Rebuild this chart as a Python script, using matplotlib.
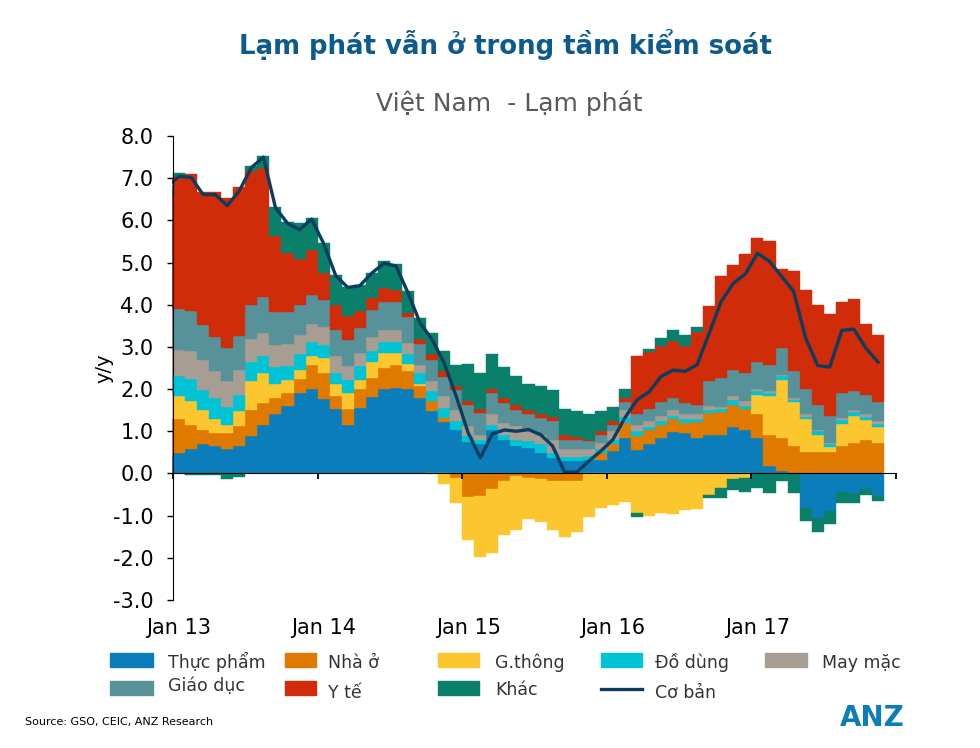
import numpy as np
import matplotlib.pyplot as plt
from matplotlib.patches import Rectangle
from matplotlib.lines import Line2D

plt.rcParams['font.family'] = ['DejaVu Sans']

# tháng: Dec 12 = -1, Jan 13 = 0 ... Nov 17 = 58
months = np.arange(-1, 59)
year_pos = [0, 12, 24, 36, 48]
year_labels = ['Jan 13', 'Jan 14', 'Jan 15', 'Jan 16', 'Jan 17']

thuc_pham = [0.41, 0.49, 0.58, 0.69, 0.65, 0.58, 0.65, 0.88, 1.16, 1.40, 1.61, 1.91, 2.00,
             1.77, 1.53, 1.14, 1.55, 1.81, 1.99, 2.03, 1.99, 1.79, 1.48, 1.21, 1.03,
             0.74, 0.69, 1.03, 0.80, 0.66, 0.61, 0.49, 0.37, 0.29, 0.29, 0.33, 0.33,
             0.53, 0.84, 0.55, 0.69, 0.85, 0.98, 0.95, 0.84, 0.90, 0.90, 1.10, 1.03,
             0.84, 0.17, 0.05, 0.00, -0.81, -1.05, -0.89, -0.44, -0.46, -0.38, -0.54]
nha_o = [0.91, 0.79, 0.56, 0.33, 0.31, 0.37, 0.47, 0.62, 0.51, 0.39, 0.30, 0.33, 0.56,
         0.61, 0.30, 0.39, 0.44, 0.45, 0.51, 0.53, 0.43, 0.29, 0.23, 0.11, -0.12,
         -0.55, -0.54, -0.38, -0.18, -0.06, -0.10, -0.13, -0.18, -0.18, -0.18, 0.00, 0.16,
         0.16, 0.36, 0.33, 0.33, 0.31, 0.30, 0.25, 0.37, 0.54, 0.55, 0.53, 0.50,
         0.56, 0.75, 0.79, 0.65, 0.50, 0.50, 0.50, 0.66, 0.73, 0.80, 0.73]
giao_thong = [0.59, 0.55, 0.57, 0.48, 0.34, 0.19, 0.36, 0.70, 0.71, 0.34, 0.30, 0.21, 0.22,
              0.36, 0.28, 0.38, 0.22, 0.38, 0.36, 0.30, 0.18, 0.05, -0.02, -0.26, -0.57,
              -1.04, -1.44, -1.50, -1.29, -1.27, -0.99, -1.01, -1.15, -1.32, -1.22, -1.03, -0.81,
              -0.75, -0.67, -0.93, -1.01, -0.93, -0.95, -0.87, -0.85, -0.50, -0.34, -0.14, -0.10,
              0.47, 0.91, 1.37, 1.04, 0.78, 0.42, 0.12, 0.52, 0.63, 0.46, 0.37]
do_dung = [0.47, 0.47, 0.53, 0.47, 0.49, 0.44, 0.39, 0.43, 0.41, 0.39, 0.33, 0.37, 0.33,
           0.31, 0.27, 0.30, 0.33, 0.26, 0.25, 0.25, 0.22, 0.25, 0.24, 0.23, 0.21,
           0.14, 0.11, 0.13, 0.12, 0.14, 0.16, 0.20, 0.12, 0.10, 0.10, 0.08, 0.08,
           0.11, 0.14, 0.12, 0.08, 0.08, 0.09, 0.09, 0.08, 0.07, 0.08, 0.10, 0.08,
           0.08, 0.08, 0.09, 0.06, 0.06, 0.08, 0.07, 0.08, 0.09, 0.08, 0.08]
may_mac = [0.57, 0.63, 0.66, 0.73, 0.63, 0.61, 0.59, 0.56, 0.54, 0.53, 0.54, 0.47, 0.44,
           0.42, 0.41, 0.33, 0.32, 0.33, 0.30, 0.30, 0.27, 0.20, 0.24, 0.28, 0.27,
           0.24, 0.12, 0.24, 0.28, 0.32, 0.23, 0.23, 0.31, 0.19, 0.19, 0.16, 0.16,
           0.20, 0.16, 0.16, 0.14, 0.13, 0.13, 0.13, 0.11, 0.10, 0.05, 0.10, 0.10,
           0.05, 0.05, 0.04, 0.04, 0.06, 0.04, 0.04, 0.06, 0.05, 0.06, 0.06]
giao_duc = [0.95, 0.97, 0.96, 0.83, 0.81, 0.78, 0.79, 0.81, 0.85, 0.77, 0.74, 0.71, 0.67,
            0.65, 0.62, 0.62, 0.59, 0.65, 0.65, 0.65, 0.62, 0.50, 0.49, 0.46, 0.46,
            0.51, 0.52, 0.51, 0.47, 0.39, 0.40, 0.40, 0.44, 0.22, 0.21, 0.20, 0.17,
            0.16, 0.19, 0.24, 0.29, 0.32, 0.29, 0.25, 0.23, 0.58, 0.68, 0.63, 0.66,
            0.64, 0.62, 0.63, 0.63, 0.59, 0.59, 0.63, 0.59, 0.45, 0.45, 0.45]
y_te = [2.68, 3.14, 3.23, 3.15, 3.45, 3.57, 3.54, 3.17, 3.07, 1.80, 1.40, 1.08, 1.08,
        0.63, 0.59, 0.58, 0.39, 0.27, 0.33, 0.29, 0.09, 0.11, 0.14, 0.13, 0.11,
        0.08, 0.09, 0.09, 0.12, 0.12, 0.10, 0.10, 0.10, 0.10, 0.08, 0.03, 0.10,
        0.08, 0.10, 1.39, 1.34, 1.32, 1.34, 1.34, 1.72, 1.77, 2.43, 2.49, 2.84,
        2.94, 2.92, 1.87, 2.38, 2.37, 2.36, 2.42, 2.15, 2.18, 1.70, 1.60]
khac = [0.26, 0.08, -0.03, -0.03, -0.04, -0.14, -0.08, 0.13, 0.28, 0.69, 0.73, 0.85, 0.75,
        0.71, 0.71, 0.69, 0.63, 0.60, 0.64, 0.62, 0.52, 0.49, 0.51, 0.48, 0.50,
        0.89, 0.85, 0.84, 0.73, 0.67, 0.63, 0.66, 0.63, 0.63, 0.61, 0.62, 0.48,
        0.34, 0.21, -0.10, 0.08, 0.20, 0.26, 0.28, 0.12, -0.08, -0.24, -0.25, -0.34,
        -0.34, -0.46, -0.18, -0.46, -0.32, -0.35, -0.32, -0.25, -0.23, -0.12, -0.11]
co_ban = [6.81, 7.04, 7.02, 6.61, 6.61, 6.35, 6.70, 7.25, 7.50, 6.30, 5.93, 5.78, 6.03,
          5.45, 4.69, 4.41, 4.45, 4.75, 4.98, 4.92, 4.28, 3.57, 3.17, 2.62, 1.83,
          0.96, 0.37, 0.94, 1.03, 1.00, 1.04, 0.92, 0.65, 0.03, 0.03, 0.29, 0.53,
          0.80, 1.32, 1.74, 1.93, 2.30, 2.45, 2.42, 2.58, 3.33, 4.08, 4.51, 4.73,
          5.22, 5.03, 4.67, 4.32, 3.21, 2.56, 2.52, 3.39, 3.42, 2.97, 2.64]

series = [thuc_pham, nha_o, giao_thong, do_dung, may_mac, giao_duc, y_te, khac]
names = ['Thực phẩm', 'Nhà ở', 'G.thông', 'Đồ dùng', 'May mặc', 'Giáo dục', 'Y tế', 'Khác']
colors = ['#0a7dba', '#df7900', '#fcc62f', '#00c3d6', '#a89d92', '#57929b', '#d02c0a', '#0a806b']
line_color = '#0c3d5e'

fig = plt.figure(figsize=(9.8, 7.48), dpi=100)
ax = fig.add_axes([0.1751, 0.1979, 0.7392, 0.6203])

pos_bottom = np.zeros(len(months))
neg_bottom = np.zeros(len(months))
for vals, col in zip(series, colors):
    v = np.array(vals)
    up = v > 0
    dn = v < 0
    ax.bar(months[up], v[up], width=1.0, bottom=pos_bottom[up], color=col,
           edgecolor=col, linewidth=0.3)
    ax.bar(months[dn], v[dn], width=1.0, bottom=neg_bottom[dn], color=col,
           edgecolor=col, linewidth=0.3)
    pos_bottom[up] += v[up]
    neg_bottom[dn] += v[dn]

ax.plot(months, co_ban, color=line_color, lw=2.4, solid_joinstyle='round', zorder=5)

ax.set_xlim(-0.62, 59.5)
ax.set_ylim(-3, 8)
ax.spines['top'].set_visible(False)
ax.spines['right'].set_visible(False)
ax.spines['bottom'].set_position(('data', 0))
ax.spines['bottom'].set_bounds(-0.5, 59.5)
ax.spines['left'].set_position(('data', -0.5))
ax.spines['bottom'].set_zorder(6)
ax.spines['left'].set_zorder(6)

ax.set_yticks(np.arange(-3, 9, 1))
ax.set_yticklabels([f'{t:.1f}' for t in np.arange(-3, 9, 1)])
ax.set_xticks(np.arange(-0.5, 60, 12))
ax.set_xticklabels([])
ax.tick_params(axis='y', direction='out', length=4, width=1, pad=10, labelsize=15)
ax.tick_params(axis='x', direction='out', length=4, width=1.3)

for xp, lab in zip(year_pos, year_labels):
    ax.text(xp, -3.66, lab, ha='center', va='center', fontsize=15, clip_on=False)

ax.set_ylabel('y/y', fontsize=14)
ax.yaxis.set_label_coords(-0.08, 0.5)

fig.text(0.516, 0.94, 'Lạm phát vẫn ở trong tầm kiểm soát', ha='center', va='center',
         fontsize=18.7, fontweight='bold', color='#0d5a8c')
fig.text(0.52, 0.862, 'Việt Nam  - Lạm phát', ha='center', va='center',
         fontsize=18, color='#595959')

# chú giải
W, H = 980.0, 748.0
leg_items = [
    ('Thực phẩm', colors[0], 110, 43, 660, 168, 668),
    ('Nhà ở', colors[1], 285, 31, 660, 328, 668),
    ('G.thông', colors[2], 438, 41, 660, 495, 668),
    ('Đồ dùng', colors[3], 601, 41, 660, 655, 668),
    ('May mặc', colors[4], 765, 42, 660, 822, 668),
    ('Giáo dục', colors[5], 110, 43, 688, 168, 691),
    ('Y tế', colors[6], 285, 31, 688, 328, 698),
    ('Khác', colors[7], 438, 41, 688, 495, 695),
]
for lab, col, px, pw, py, tx, ty in leg_items:
    fig.add_artist(Rectangle((px / W, 1 - (py + 7) / H), pw / W, 14 / H,
                             transform=fig.transFigure, color=col))
    fig.text(tx / W, 1 - ty / H, lab, ha='left', va='baseline', fontsize=12.5, color='#333333')
fig.add_artist(Line2D([601 / W, 642 / W], [1 - 689 / H, 1 - 689 / H],
                      transform=fig.transFigure, color=line_color, lw=2.4))
fig.text(655 / W, 1 - 698 / H, 'Cơ bản', ha='left', va='baseline', fontsize=12.5, color='#333333')

fig.text(25 / W, 1 - 722 / H, 'Source: GSO, CEIC, ANZ Research', ha='left', va='center',
         fontsize=8, color='black')
fig.text(905 / W, 1 - 718 / H, 'ANZ', ha='right', va='center', fontsize=20,
         fontweight='heavy', color='#0a7dba')

fig.savefig('out.png', dpi=100)
